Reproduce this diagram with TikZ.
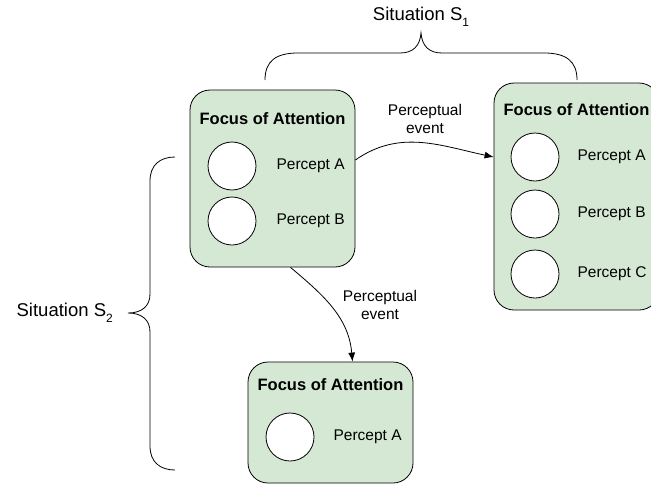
\documentclass[tikz,border=0pt]{standalone}
\usepackage{fontspec}
\setmainfont{Liberation Sans}
\usepackage{tikz}
\usetikzlibrary{arrows.meta,calc,positioning}
\definecolor{boxgreen}{HTML}{D5E8D4}
\newcommand{\sitsub}[1]{\raisebox{-0.3em}{\fontsize{12}{14}\selectfont #1}}
\tikzset{%
	focusbox/.style = {draw, fill=boxgreen, rounded corners=20pt, minimum width=165pt, line width=0.8pt},
	focustitle/.style = {font=\fontsize{16.5}{19}\selectfont\bfseries, inner sep=0pt},
	percept/.style  = {draw, circle, fill=white, minimum size=48pt, inner sep=0pt, line width=0.8pt},
	plabel/.style   = {font=\fontsize{15.5}{18}\selectfont, inner sep=0pt, anchor=west},
	evtlabel/.style = {font=\fontsize{15.5}{18}\selectfont, align=center, inner sep=0pt},
	sitlabel/.style = {font=\fontsize{18.5}{21}\selectfont, inner sep=0pt},
	arrow/.style    = {line width=0.8pt, -{Latex[length=9pt,width=7pt]}},
	bracket/.style  = {line width=0.8pt},
}

\begin{document}
\begin{tikzpicture}[x=1pt,y=-1pt]
	\clip (0,0) rectangle (651,485);
	
	% focus boxes
	\node[focusbox, minimum height=177pt] (b1) at (272.5,178.5) {};
	\node[focusbox, minimum height=227pt] (b2) at (576.5,196.5) {};
	\node[focusbox, minimum height=121pt] (b3) at (330.5,422.5) {};
	
	\node[focustitle] (t1) at (b1 |- 0,119) {Focus of Attention};
	\node[focustitle] (t2) at (b2 |- 0,110) {Focus of Attention};
	\node[focustitle] (t3) at (b3 |- 0,385) {Focus of Attention};
	
	% percepts
	\node[percept] (c1a) at (232,166) {};
	\node[percept] (c1b) at (232,221) {};
	\node[plabel, right=20pt of c1a] (l1a) {Percept A};
	\node[plabel, right=20pt of c1b] (l1b) {Percept B};
	
	\foreach \n/\y in {a/157,b/214,c/274} \node[percept] (c2\n) at (535,\y) {};
	\node[plabel, right=18pt of c2a] (l2a) {Percept A};
	\node[plabel, right=18pt of c2b] (l2b) {Percept B};
	\node[plabel, right=18pt of c2c] (l2c) {Percept C};
	
	\node[percept] (c3a) at (290,437) {};
	\node[plabel, right=19pt of c3a] (l3a) {Percept A};
	
	% perceptual events
	\draw[arrow] (b1.east |- 0,160) to[out=35, in=168] (b2.west |- c2a);
	\node[evtlabel] (e1) at (425,119) {Perceptual\\event};
	\draw[arrow] ($(b1.south)+(18,0)$) to[out=-40, in=95] ($(b3.north)+(22,0)$);
	\node[evtlabel] (e2) at (380,305) {Perceptual\\event};
	
	% situations
	\draw[bracket] (265,80) .. controls (265,61) and (276,53) .. (298,53) -- (400,53)
		.. controls (413,53) and (420,46) .. (421,33) .. controls (422,46) and (429,53) .. (442,53)
		-- (544,53) .. controls (566,53) and (577,61) .. (577,80);
	\coordinate (s1tip) at (421,33);
	\node[sitlabel] (s1) at (421,17) {Situation S\sitsub{1}};
	
	\draw[bracket] (175,157) .. controls (160,157) and (150,165) .. (150,181) -- (150,294)
		.. controls (150,306) and (142,313) .. (128,313) .. controls (142,313) and (150,320) .. (150,332)
		-- (150,446) .. controls (150,462) and (160,470) .. (175,470);
	\coordinate (s2tip) at (128,313);
	\node[sitlabel, anchor=east] (s2) at ($(s2tip)+(-15,0)$) {Situation S\sitsub{2}};
\end{tikzpicture}
\end{document}
